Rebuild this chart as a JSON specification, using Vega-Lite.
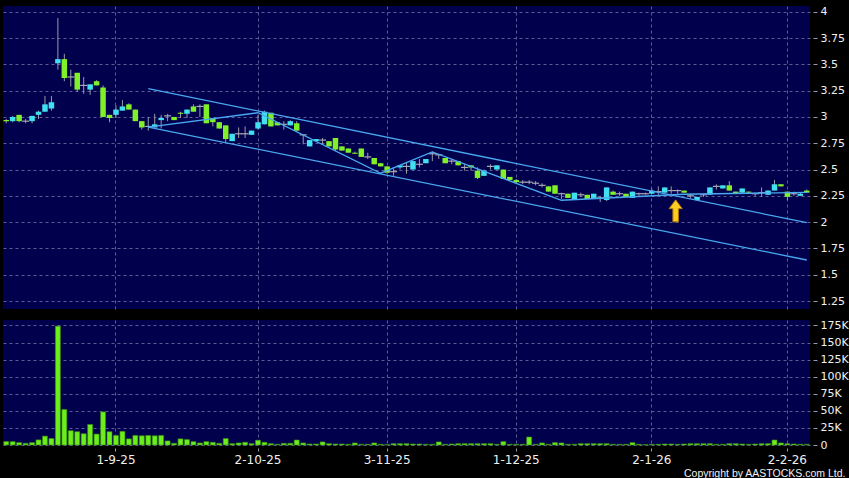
{
  "$schema": "https://vega.github.io/schema/vega-lite/v6.json",
  "background": "#000000",
  "padding": {"left": 3, "top": 5, "right": 0, "bottom": 0},
  "config": {
    "view": {"fill": "#00004d", "stroke": null},
    "axis": {
      "labelColor": "#f0f0f0", "labelFont": "DejaVu Sans", "labelFontSize": 11, "labelOverlap": false,
      "tickColor": "#9a9ab0", "domain": false, "gridColor": "#5c5c94", "gridDash": [3, 3], "gridWidth": 1
    }
  },
  "datasets": {
    "candles": [
      {"t":"2025-08-07","o":2.97,"h":2.98,"l":2.94,"c":2.96,"v":5000},
      {"t":"2025-08-08","o":2.96,"h":3.01,"l":2.95,"c":3.00,"v":5000},
      {"t":"2025-08-11","o":3.02,"h":3.02,"l":2.95,"c":2.96,"v":3500},
      {"t":"2025-08-12","o":2.96,"h":2.98,"l":2.94,"c":2.96,"v":2500},
      {"t":"2025-08-13","o":2.96,"h":3.01,"l":2.94,"c":3.01,"v":3500},
      {"t":"2025-08-14","o":3.02,"h":3.06,"l":2.98,"c":3.05,"v":7500},
      {"t":"2025-08-15","o":3.05,"h":3.20,"l":3.05,"c":3.12,"v":13000},
      {"t":"2025-08-18","o":3.08,"h":3.20,"l":3.06,"c":3.14,"v":9500},
      {"t":"2025-08-19","o":3.51,"h":3.94,"l":3.45,"c":3.55,"v":174000},
      {"t":"2025-08-20","o":3.55,"h":3.60,"l":3.34,"c":3.37,"v":52000},
      {"t":"2025-08-21","o":3.38,"h":3.45,"l":3.29,"c":3.38,"v":21000},
      {"t":"2025-08-22","o":3.42,"h":3.42,"l":3.24,"c":3.26,"v":19500},
      {"t":"2025-08-25","o":3.30,"h":3.38,"l":3.22,"c":3.30,"v":16500},
      {"t":"2025-08-26","o":3.26,"h":3.31,"l":3.21,"c":3.31,"v":30000},
      {"t":"2025-08-27","o":3.34,"h":3.35,"l":3.30,"c":3.30,"v":16000},
      {"t":"2025-08-28","o":3.28,"h":3.30,"l":3.00,"c":3.00,"v":48500},
      {"t":"2025-08-29","o":3.02,"h":3.02,"l":2.95,"c":2.99,"v":19500},
      {"t":"2025-09-01","o":3.02,"h":3.11,"l":2.99,"c":3.07,"v":14000},
      {"t":"2025-09-02","o":3.06,"h":3.16,"l":3.06,"c":3.10,"v":20000},
      {"t":"2025-09-03","o":3.12,"h":3.13,"l":3.07,"c":3.07,"v":9000},
      {"t":"2025-09-04","o":3.07,"h":3.07,"l":2.96,"c":2.96,"v":14000},
      {"t":"2025-09-05","o":2.96,"h":2.96,"l":2.88,"c":2.90,"v":13500},
      {"t":"2025-09-08","o":2.91,"h":3.00,"l":2.87,"c":2.91,"v":14000},
      {"t":"2025-09-09","o":2.90,"h":3.03,"l":2.90,"c":2.93,"v":13500},
      {"t":"2025-09-10","o":2.97,"h":3.02,"l":2.89,"c":2.99,"v":14000},
      {"t":"2025-09-11","o":3.01,"h":3.03,"l":2.96,"c":3.01,"v":6000},
      {"t":"2025-09-12","o":3.00,"h":3.00,"l":2.97,"c":2.97,"v":2500},
      {"t":"2025-09-15","o":3.04,"h":3.05,"l":2.99,"c":3.03,"v":9000},
      {"t":"2025-09-16","o":3.03,"h":3.07,"l":2.99,"c":3.07,"v":8000},
      {"t":"2025-09-17","o":3.10,"h":3.12,"l":3.05,"c":3.05,"v":5000},
      {"t":"2025-09-18","o":3.10,"h":3.12,"l":3.00,"c":3.10,"v":3000},
      {"t":"2025-09-19","o":3.12,"h":3.12,"l":2.94,"c":2.94,"v":5000},
      {"t":"2025-09-22","o":2.99,"h":2.99,"l":2.91,"c":2.95,"v":4000},
      {"t":"2025-09-23","o":2.95,"h":2.95,"l":2.89,"c":2.89,"v":2500},
      {"t":"2025-09-24","o":2.92,"h":2.92,"l":2.76,"c":2.79,"v":9500},
      {"t":"2025-09-25","o":2.77,"h":2.84,"l":2.77,"c":2.84,"v":2000},
      {"t":"2025-09-26","o":2.84,"h":2.90,"l":2.80,"c":2.84,"v":3000},
      {"t":"2025-09-29","o":2.84,"h":2.91,"l":2.80,"c":2.84,"v":4000},
      {"t":"2025-09-30","o":2.83,"h":2.87,"l":2.83,"c":2.87,"v":2000},
      {"t":"2025-10-02","o":2.89,"h":3.02,"l":2.88,"c":2.95,"v":7000},
      {"t":"2025-10-03","o":2.93,"h":3.06,"l":2.93,"c":3.05,"v":4000},
      {"t":"2025-10-06","o":3.04,"h":3.04,"l":2.91,"c":2.91,"v":2000},
      {"t":"2025-10-08","o":2.95,"h":2.95,"l":2.92,"c":2.92,"v":1000},
      {"t":"2025-10-09","o":2.93,"h":2.96,"l":2.88,"c":2.93,"v":2500},
      {"t":"2025-10-10","o":2.92,"h":2.97,"l":2.92,"c":2.96,"v":2500},
      {"t":"2025-10-13","o":2.94,"h":2.96,"l":2.87,"c":2.87,"v":7300},
      {"t":"2025-10-14","o":2.83,"h":2.83,"l":2.74,"c":2.83,"v":3000},
      {"t":"2025-10-15","o":2.72,"h":2.78,"l":2.72,"c":2.78,"v":1500},
      {"t":"2025-10-16","o":2.77,"h":2.79,"l":2.77,"c":2.79,"v":1500},
      {"t":"2025-10-17","o":2.78,"h":2.80,"l":2.74,"c":2.78,"v":4500},
      {"t":"2025-10-20","o":2.77,"h":2.77,"l":2.72,"c":2.72,"v":2000},
      {"t":"2025-10-21","o":2.80,"h":2.80,"l":2.68,"c":2.69,"v":1500},
      {"t":"2025-10-22","o":2.72,"h":2.72,"l":2.68,"c":2.68,"v":1500},
      {"t":"2025-10-23","o":2.70,"h":2.70,"l":2.66,"c":2.66,"v":1000},
      {"t":"2025-10-24","o":2.66,"h":2.67,"l":2.65,"c":2.65,"v":3000},
      {"t":"2025-10-27","o":2.70,"h":2.70,"l":2.62,"c":2.62,"v":1000},
      {"t":"2025-10-28","o":2.62,"h":2.66,"l":2.60,"c":2.62,"v":1000},
      {"t":"2025-10-30","o":2.61,"h":2.61,"l":2.55,"c":2.55,"v":3000},
      {"t":"2025-10-31","o":2.56,"h":2.56,"l":2.53,"c":2.53,"v":1000},
      {"t":"2025-11-03","o":2.53,"h":2.53,"l":2.46,"c":2.47,"v":500},
      {"t":"2025-11-04","o":2.48,"h":2.51,"l":2.44,"c":2.48,"v":2000},
      {"t":"2025-11-05","o":2.52,"h":2.54,"l":2.50,"c":2.54,"v":2000},
      {"t":"2025-11-06","o":2.53,"h":2.57,"l":2.46,"c":2.53,"v":2000},
      {"t":"2025-11-07","o":2.50,"h":2.58,"l":2.50,"c":2.58,"v":1500},
      {"t":"2025-11-10","o":2.55,"h":2.60,"l":2.52,"c":2.55,"v":1500},
      {"t":"2025-11-11","o":2.56,"h":2.60,"l":2.56,"c":2.60,"v":1000},
      {"t":"2025-11-12","o":2.65,"h":2.67,"l":2.58,"c":2.65,"v":1000},
      {"t":"2025-11-13","o":2.64,"h":2.65,"l":2.60,"c":2.64,"v":4500},
      {"t":"2025-11-14","o":2.61,"h":2.61,"l":2.56,"c":2.56,"v":1000},
      {"t":"2025-11-17","o":2.58,"h":2.60,"l":2.55,"c":2.58,"v":1500},
      {"t":"2025-11-18","o":2.58,"h":2.58,"l":2.54,"c":2.54,"v":2000},
      {"t":"2025-11-19","o":2.52,"h":2.55,"l":2.49,"c":2.52,"v":2000},
      {"t":"2025-11-20","o":2.54,"h":2.54,"l":2.49,"c":2.52,"v":2000},
      {"t":"2025-11-21","o":2.49,"h":2.52,"l":2.41,"c":2.42,"v":2000},
      {"t":"2025-11-24","o":2.44,"h":2.50,"l":2.44,"c":2.49,"v":2000},
      {"t":"2025-11-25","o":2.53,"h":2.55,"l":2.50,"c":2.53,"v":2000},
      {"t":"2025-11-26","o":2.50,"h":2.54,"l":2.50,"c":2.54,"v":1000},
      {"t":"2025-11-27","o":2.50,"h":2.50,"l":2.41,"c":2.41,"v":5000},
      {"t":"2025-11-28","o":2.43,"h":2.43,"l":2.40,"c":2.40,"v":1000},
      {"t":"2025-12-01","o":2.40,"h":2.41,"l":2.37,"c":2.38,"v":1000},
      {"t":"2025-12-02","o":2.38,"h":2.40,"l":2.36,"c":2.38,"v":1000},
      {"t":"2025-12-03","o":2.38,"h":2.40,"l":2.36,"c":2.38,"v":11700},
      {"t":"2025-12-04","o":2.37,"h":2.39,"l":2.35,"c":2.37,"v":1000},
      {"t":"2025-12-05","o":2.35,"h":2.37,"l":2.33,"c":2.35,"v":3000},
      {"t":"2025-12-08","o":2.34,"h":2.34,"l":2.29,"c":2.29,"v":1000},
      {"t":"2025-12-09","o":2.35,"h":2.35,"l":2.27,"c":2.27,"v":3500},
      {"t":"2025-12-10","o":2.27,"h":2.28,"l":2.22,"c":2.27,"v":3000},
      {"t":"2025-12-11","o":2.27,"h":2.27,"l":2.23,"c":2.23,"v":1000},
      {"t":"2025-12-12","o":2.22,"h":2.28,"l":2.22,"c":2.28,"v":1000},
      {"t":"2025-12-15","o":2.26,"h":2.28,"l":2.24,"c":2.26,"v":2000},
      {"t":"2025-12-16","o":2.26,"h":2.26,"l":2.22,"c":2.22,"v":2000},
      {"t":"2025-12-17","o":2.23,"h":2.27,"l":2.23,"c":2.27,"v":2000},
      {"t":"2025-12-18","o":2.23,"h":2.25,"l":2.19,"c":2.23,"v":2000},
      {"t":"2025-12-19","o":2.21,"h":2.33,"l":2.20,"c":2.33,"v":2000},
      {"t":"2025-12-22","o":2.29,"h":2.30,"l":2.26,"c":2.26,"v":1000},
      {"t":"2025-12-23","o":2.27,"h":2.29,"l":2.25,"c":2.27,"v":1000},
      {"t":"2025-12-24","o":2.27,"h":2.27,"l":2.24,"c":2.24,"v":1000},
      {"t":"2025-12-29","o":2.23,"h":2.29,"l":2.23,"c":2.29,"v":3500},
      {"t":"2025-12-30","o":2.27,"h":2.28,"l":2.25,"c":2.27,"v":1000},
      {"t":"2025-12-31","o":2.27,"h":2.28,"l":2.26,"c":2.27,"v":500},
      {"t":"2026-01-02","o":2.27,"h":2.32,"l":2.27,"c":2.30,"v":1000},
      {"t":"2026-01-05","o":2.29,"h":2.34,"l":2.26,"c":2.29,"v":1000},
      {"t":"2026-01-06","o":2.28,"h":2.33,"l":2.28,"c":2.33,"v":1500},
      {"t":"2026-01-07","o":2.30,"h":2.34,"l":2.27,"c":2.30,"v":1500},
      {"t":"2026-01-08","o":2.30,"h":2.31,"l":2.27,"c":2.30,"v":1000},
      {"t":"2026-01-09","o":2.30,"h":2.30,"l":2.28,"c":2.28,"v":1500},
      {"t":"2026-01-12","o":2.25,"h":2.27,"l":2.23,"c":2.25,"v":2000},
      {"t":"2026-01-13","o":2.21,"h":2.24,"l":2.21,"c":2.24,"v":2000},
      {"t":"2026-01-14","o":2.26,"h":2.27,"l":2.24,"c":2.26,"v":2000},
      {"t":"2026-01-15","o":2.26,"h":2.33,"l":2.26,"c":2.33,"v":2000},
      {"t":"2026-01-16","o":2.34,"h":2.36,"l":2.31,"c":2.34,"v":1000},
      {"t":"2026-01-19","o":2.32,"h":2.35,"l":2.32,"c":2.35,"v":1000},
      {"t":"2026-01-20","o":2.35,"h":2.39,"l":2.30,"c":2.30,"v":2000},
      {"t":"2026-01-21","o":2.29,"h":2.29,"l":2.27,"c":2.27,"v":2000},
      {"t":"2026-01-22","o":2.28,"h":2.32,"l":2.28,"c":2.32,"v":1500},
      {"t":"2026-01-23","o":2.29,"h":2.29,"l":2.27,"c":2.28,"v":1000},
      {"t":"2026-01-26","o":2.27,"h":2.28,"l":2.25,"c":2.27,"v":1500},
      {"t":"2026-01-27","o":2.28,"h":2.33,"l":2.24,"c":2.28,"v":2000},
      {"t":"2026-01-28","o":2.26,"h":2.30,"l":2.26,"c":2.30,"v":2000},
      {"t":"2026-01-29","o":2.30,"h":2.40,"l":2.30,"c":2.36,"v":7300},
      {"t":"2026-01-30","o":2.36,"h":2.36,"l":2.34,"c":2.34,"v":3000},
      {"t":"2026-02-02","o":2.29,"h":2.29,"l":2.21,"c":2.24,"v":2000},
      {"t":"2026-02-03","o":2.27,"h":2.29,"l":2.25,"c":2.27,"v":1500},
      {"t":"2026-02-04","o":2.25,"h":2.28,"l":2.25,"c":2.27,"v":1000},
      {"t":"2026-02-05","o":2.30,"h":2.31,"l":2.28,"c":2.28,"v":1000}
    ],
    "lines": [
      {"line":"upper","t":"2025-09-08","p":3.269},
      {"line":"upper","t":"2026-02-05","p":1.995},
      {"line":"lower","t":"2025-09-08","p":2.904},
      {"line":"lower","t":"2026-02-05","p":1.64},
      {"line":"zigzag","t":"2025-09-08","p":2.904},
      {"line":"zigzag","t":"2025-10-02","p":3.04},
      {"line":"zigzag","t":"2025-10-31","p":2.465},
      {"line":"zigzag","t":"2025-11-12","p":2.668},
      {"line":"zigzag","t":"2025-12-10","p":2.208},
      {"line":"zigzag","t":"2026-01-09","p":2.265},
      {"line":"zigzag","t":"2026-02-05","p":2.283}
    ],
    "arrow": [{"t":"2026-01-08","p":2.107}]
  },
  "spacing": 10,
  "vconcat": [
    {
      "width": 807,
      "height": 303,
      "encoding": {
        "x": {
          "field": "t", "type": "ordinal",
          "scale": {"type": "band", "paddingInner": 0, "paddingOuter": 0},
          "axis": {
            "values": ["2025-09-01","2025-10-02","2025-11-03","2025-12-01","2026-01-02","2026-02-02"],
            "labels": false, "ticks": false, "grid": true, "bandPosition": 0.5, "title": null
          }
        }
      },
      "layer": [
        {
          "data": {"name": "candles"},
          "mark": {"type": "rule", "color": "#9a9aa8", "strokeWidth": 1},
          "encoding": {
            "y": {
              "field": "l", "type": "quantitative",
              "scale": {"domain": [1.174, 4.055], "nice": false, "zero": false},
              "axis": {
                "orient": "right", "title": null, "values": [1.25,1.5,1.75,2,2.25,2.5,2.75,3,3.25,3.5,3.75,4],
                "tickCount": 24,
                "labelExpr": "format(datum.value, '~g')", "offset": 3, "tickSize": 4, "labelPadding": 3, "grid": true
              }
            },
            "y2": {"field": "h"}
          }
        },
        {
          "data": {"name": "candles"},
          "transform": [{"filter": "datum.o != datum.c"}],
          "mark": {"type": "bar", "size": 5.5},
          "encoding": {
            "y": {"field": "o", "type": "quantitative"},
            "y2": {"field": "c"},
            "color": {"condition": {"test": "datum.c > datum.o", "value": "#40e0f0"}, "value": "#80f028"}
          }
        },
        {
          "data": {"name": "candles"},
          "transform": [{"filter": "datum.o == datum.c"}],
          "mark": {"type": "tick", "color": "#a8a8b4", "thickness": 1.2, "size": 7, "opacity": 1},
          "encoding": {
            "y": {"field": "o", "type": "quantitative"}
          }
        },
        {
          "data": {"name": "lines"},
          "mark": {"type": "line", "color": "#4aa8f0", "strokeWidth": 1.3},
          "encoding": {
            "y": {"field": "p", "type": "quantitative"},
            "detail": {"field": "line"}
          }
        },
        {
          "data": {"name": "arrow"},
          "mark": {
            "type": "point", "filled": true, "size": 484, "opacity": 1,
            "shape": "M0,-1L0.6,-0.2L0.25,-0.2L0.25,1L-0.25,1L-0.25,-0.2L-0.6,-0.2Z",
            "color": "#ffcc22", "stroke": "#b07a00", "strokeWidth": 1, "xOffset": -2
          },
          "encoding": {
            "y": {"field": "p", "type": "quantitative"}
          }
        }
      ]
    },
    {
      "width": 807,
      "height": 125,
      "data": {"name": "candles"},
      "mark": {"type": "bar", "size": 5, "color": "#6cee1c", "stroke": "#3a8a10", "strokeWidth": 0.6},
      "encoding": {
        "x": {
          "field": "t", "type": "ordinal",
          "scale": {"type": "band", "paddingInner": 0, "paddingOuter": 0},
          "axis": {
            "values": ["2025-09-01","2025-10-02","2025-11-03","2025-12-01","2026-01-02","2026-02-02"],
            "labelExpr": "utcFormat(toDate(datum.value), '%-d-%-m-%y')",
            "labelAngle": 0, "labelFontSize": 12, "labelPadding": 3,
            "grid": true, "bandPosition": 0.5, "offset": 3, "tickSize": 3,
            "title": "Copyright by AASTOCKS.com Ltd.",
            "titleX": 842, "titleY": 25, "titleAlign": "right", "titleAnchor": "end", "titleBaseline": "middle",
            "titleColor": "#f0f0f0", "titleFont": "Liberation Sans", "titleFontSize": 10.5, "titleFontWeight": "normal"
          }
        },
        "y": {
          "field": "v", "type": "quantitative",
          "scale": {"domain": [0, 183000], "nice": false},
          "axis": {
            "orient": "right", "title": null,
            "values": [0,25000,50000,75000,100000,125000,150000,175000],
            "labelExpr": "datum.value == 0 ? '0' : (datum.value / 1000) + 'K'",
            "offset": 3, "tickSize": 4, "labelPadding": 3, "grid": true
          }
        }
      }
    }
  ]
}
